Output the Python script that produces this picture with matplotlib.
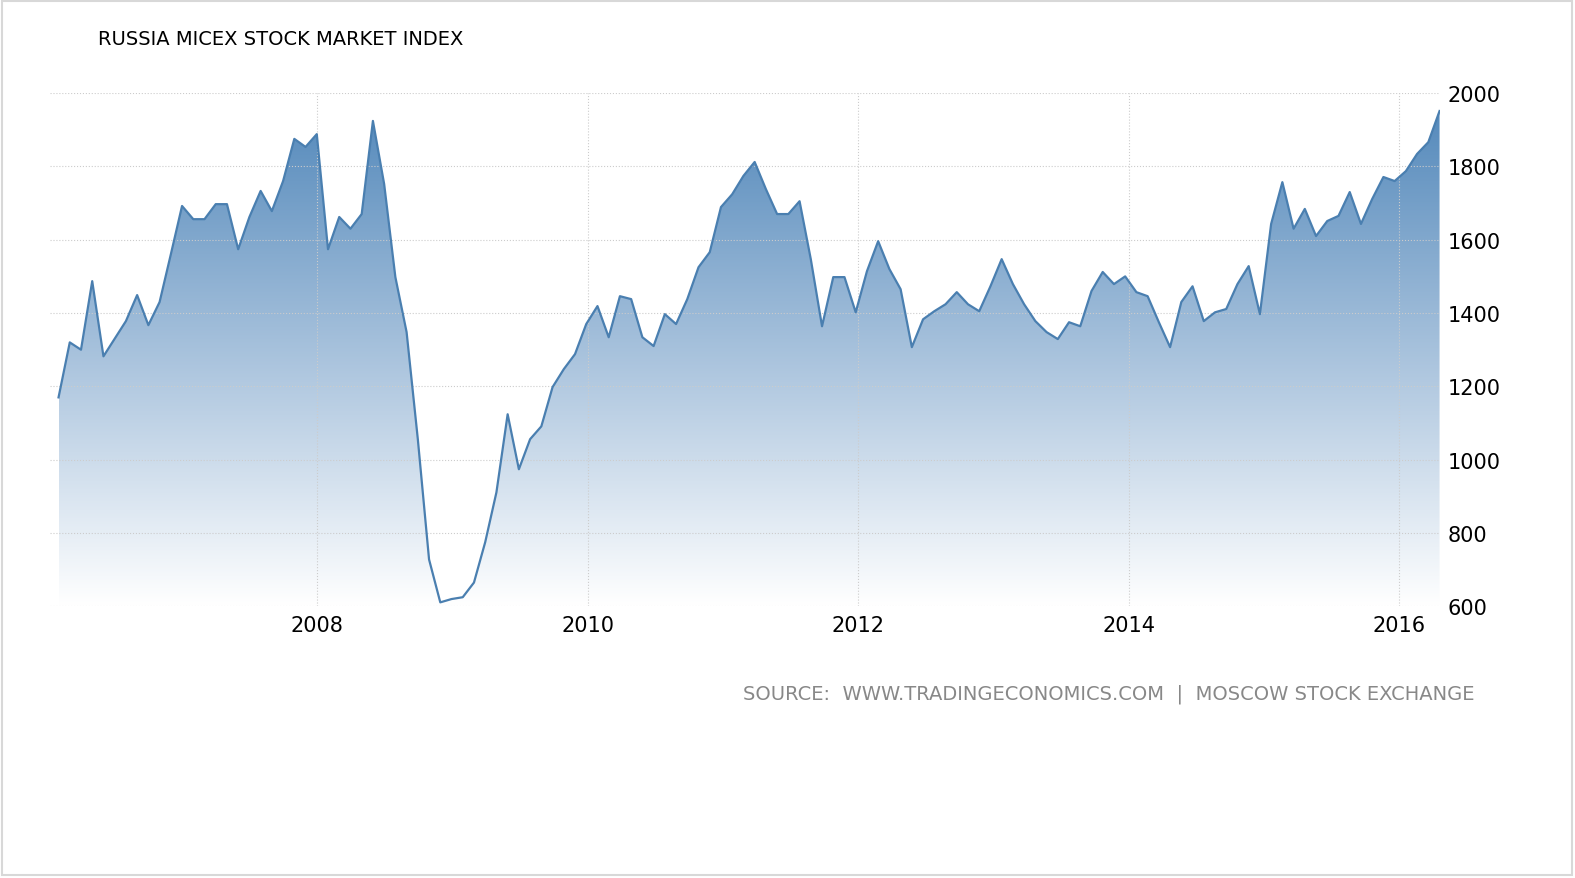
import numpy as np
import pandas as pd
import matplotlib
matplotlib.use("Agg")
from matplotlib import pyplot as plt
import matplotlib.dates as mdates

# monthly values
values = [1170, 1320, 1300, 1487, 1282, 1330, 1378, 1449, 1367, 1430,
          1560, 1692, 1656, 1656, 1697, 1697, 1574, 1662, 1733, 1678,
          1760, 1875, 1853, 1888, 1574, 1662, 1630, 1670, 1924, 1752,
          1498, 1348, 1056, 728, 611, 620, 625, 665, 775, 911,
          1124, 974, 1056, 1091, 1198, 1247, 1288, 1370, 1419, 1334,
          1446, 1438, 1334, 1310, 1397, 1370, 1438, 1525, 1566, 1689,
          1724, 1774, 1812, 1738, 1670, 1670, 1705, 1547, 1364, 1498,
          1498, 1402, 1514, 1596, 1520, 1465, 1307, 1383, 1405, 1424,
          1457, 1424, 1405, 1473, 1547, 1479, 1424, 1378, 1348, 1329,
          1375, 1364, 1460, 1512, 1479, 1500, 1457, 1446, 1375, 1307,
          1430, 1473, 1378, 1402, 1411, 1479, 1528, 1397, 1643, 1757,
          1630, 1684, 1610, 1651, 1665, 1730, 1643, 1711, 1771, 1760,
          1787, 1834, 1866, 1951]
dates = pd.date_range("2006-02-01", "2016-04-20", periods=len(values))
y_ticks = [600, 800, 1000, 1200, 1400, 1600, 1800, 2000]
x_years = [2008, 2010, 2012, 2014, 2016]

fig = plt.figure(figsize=(15.75, 8.79), dpi=100)
ax = fig.add_axes([0.032, 0.309, 0.882, 0.584])
x = mdates.date2num(dates)
y = np.array(values)

ymin, ymax = 600, 2000
ax.set_ylim(ymin, ymax)
ax.set_xlim(mdates.date2num(pd.Timestamp("2006-01-10")), x[-1])

# gradient fill under the line
grad = np.linspace(0, 1, 256).reshape(-1, 1)
cmap = matplotlib.colors.LinearSegmentedColormap.from_list("g", ["#ffffff", "#a9c3dd", "#5489bb"])
img = ax.imshow(grad, extent=[x[0], x[-1], ymin, 1960], origin="lower", aspect="auto",
                cmap=cmap, zorder=1)
poly = ax.fill_between(x, y, ymin, color="none")
path = poly.get_paths()[0]
img.set_clip_path(path, transform=ax.transData)
ax.plot(x, y, color="#4a7fb0", lw=1.6, zorder=3)

ax.yaxis.tick_right()
ax.set_yticks(y_ticks)
ax.set_xticks([mdates.date2num(pd.Timestamp(f"{yr}-01-01")) for yr in x_years])
ax.set_xticklabels([str(yr) for yr in x_years])
ax.tick_params(length=0, labelsize=15, pad=6)
ax.grid(True, color="#cccccc", linestyle=":", lw=0.8)
for s in ax.spines.values():
    s.set_visible(False)

# thin frame around the picture
fig.patches.append(plt.Rectangle((0.001, 0.003), 0.997, 0.995, transform=fig.transFigure,
                                 fill=False, edgecolor="#d8d8d8", lw=1.5))

fig.text(0.062, 0.955, "RUSSIA MICEX STOCK MARKET INDEX", fontsize=14, va="center")
fig.text(0.936, 0.21, "SOURCE:  WWW.TRADINGECONOMICS.COM  |  MOSCOW STOCK EXCHANGE",
         fontsize=14, color="#888888", ha="right", va="center")
fig.savefig("out.png", dpi=100)
